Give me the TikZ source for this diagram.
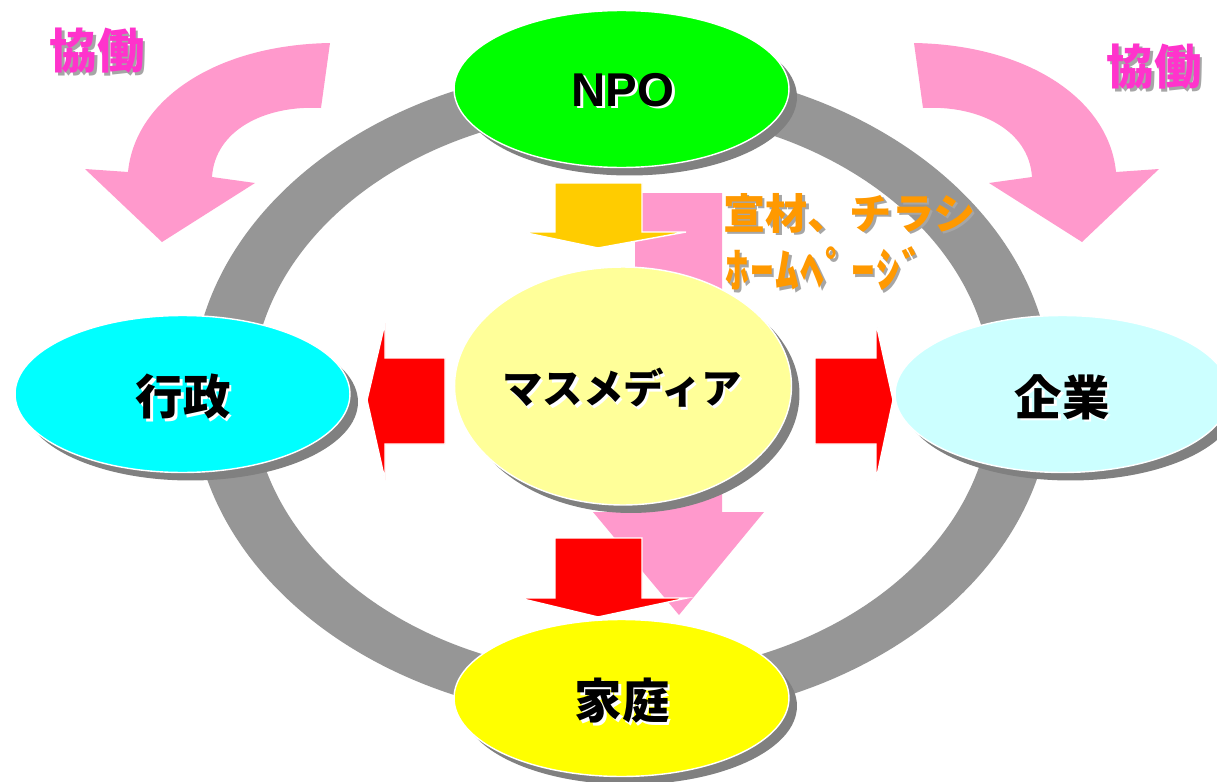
\documentclass[tikz,border=0pt]{standalone}
\usepackage{fontspec}
\setmainfont{Liberation Sans}
\newfontfamily\jp{Noto Sans CJK JP}
\usetikzlibrary{shapes.geometric,shadows}

\definecolor{ringgray}{HTML}{969696}
\definecolor{shadowgray}{HTML}{808080}
\definecolor{pinkarrow}{HTML}{FF99CC}
\definecolor{magentatxt}{HTML}{FF33CC}
\definecolor{orangetxt}{HTML}{FF9900}
\definecolor{orangearrow}{HTML}{FFCC00}
\definecolor{npogreen}{HTML}{00FF00}
\definecolor{gyoseicyan}{HTML}{00FFFF}
\definecolor{kigyocyan}{HTML}{CCFFFF}
\definecolor{mediayellow}{HTML}{FFFF99}
\definecolor{kateiyellow}{HTML}{FFFF00}

\begin{document}
\begin{tikzpicture}[x=0.02cm,y=-0.02cm,
  oval/.style={ellipse, draw=white, line width=0.8pt, inner sep=0pt,
    general shadow={fill=shadowgray, shadow xshift=0.16cm, shadow yshift=-0.16cm}},
  smalloval/.style={oval, minimum width=6.7cm, minimum height=3.14cm},
  lbl/.style={inner sep=0pt, text=black},
  lblshadow/.style={inner sep=0pt, text=white},
  cjklabel/.style={font=\jp\bfseries\fontsize{27pt}{30pt}\selectfont},
  kyodo/.style={inner sep=0pt, font=\jp\bfseries\fontsize{27pt}{30pt}\selectfont, text=magentatxt},
  kyodoshadow/.style={kyodo, text=shadowgray!70},
  mediatext/.style={inner sep=0pt, anchor=west, text=orangetxt},
  mediashadow/.style={mediatext, text=shadowgray!70},
  hpfont/.style={font=\jp\bfseries\fontsize{27pt}{30pt}\selectfont\addfontfeature{LetterSpace=3}},
  redarrow/.style={fill=red, draw=white, line width=0.8pt},
]
\fill[white] (0,0) rectangle (1217,781);
\useasboundingbox (0,0) rectangle (1217,781);

% gray ring
\fill[ringgray, even odd rule] (622,393) ellipse [x radius=8.6cm, y radius=6.56cm]
  (622,393) ellipse [x radius=7.4cm, y radius=5.64cm];

% curved pink arrows
\fill[pinkarrow] (330,43) .. controls (215,45) and (135,100) .. (128,172) -- (85,169)
  -- (162,242) -- (255,183) -- (212,177) .. controls (215,130) and (265,105) .. (321,108) -- cycle;
\fill[pinkarrow] (914,43) .. controls (1029,45) and (1109,100) .. (1116,172) -- (1159,169)
  -- (1082,242) -- (989,183) -- (1032,177) .. controls (1029,130) and (979,105) .. (923,108) -- cycle;

% big pink straight arrow
\fill[pinkarrow] (635,193) -- (722,193) -- (722,512) -- (764,512) -- (679,615) -- (593,512)
  -- (635,512) -- cycle;

% orange arrow
\filldraw[fill=orangearrow, draw=white, line width=0.8pt] (555,183) -- (642,183) -- (642,232)
  -- (686,232) -- (598,248) -- (522,232) -- (555,232) -- cycle;

% ellipses
\node[smalloval, fill=npogreen] (npo) at (621.5,89) {};
\node[smalloval, fill=gyoseicyan] (gyosei) at (182.5,394) {};
\node[smalloval, fill=kigyocyan] (kigyo) at (1062.5,394) {};
\node[smalloval, fill=kateiyellow] (katei) at (621.5,698) {};
\node[oval, fill=mediayellow, minimum width=6.74cm, minimum height=4.76cm] (media) at (623,386) {};

% red arrows
\path[redarrow] (555,538) -- (642,538) -- (642,598) -- (687,598) -- (598,617) -- (519,598)
  -- (555,598) -- cycle;
\path[redarrow] (445,358) -- (445,444) -- (385,444) -- (385,480) -- (367,400) -- (385,323)
  -- (385,358) -- cycle;
\path[redarrow] (815,358) -- (876,358) -- (876,323) -- (893,400) -- (876,480) -- (876,444)
  -- (815,444) -- cycle;

% labels in ellipses
\node[lblshadow, font=\bfseries\fontsize{27pt}{30pt}\selectfont] at (625.5,92.5) {NPO};
\node[lbl, font=\bfseries\fontsize{27pt}{30pt}\selectfont] (npotext) at (623,90) {NPO};
\node[lblshadow, cjklabel] at (185.5,399.5) {行政};
\node[lbl, cjklabel] (gyoseitext) at (183,397) {行政};
\node[lblshadow, cjklabel] at (1064.5,399.5) {企業};
\node[lbl, cjklabel] (kigyotext) at (1062,397) {企業};
\node[lblshadow, cjklabel] at (624.5,703.5) {家庭};
\node[lbl, cjklabel] (kateitext) at (622,701) {家庭};
\node[lblshadow, font=\jp\bfseries\fontsize{23pt}{26pt}\selectfont] at (624.5,390.5) {マスメディア};
\node[lbl, font=\jp\bfseries\fontsize{23pt}{26pt}\selectfont] (mediatxt) at (622,388) {マスメディア};

% kyodo labels
\node[kyodoshadow] at (99.5,53.5) {協働};
\node[kyodo] (kyodoL) at (97,51) {協働};
\node[kyodoshadow] at (1156.5,69.5) {協働};
\node[kyodo] (kyodoR) at (1154,67) {協働};

% media labels
\node[mediashadow, font=\jp\bfseries\fontsize{24pt}{27pt}\selectfont] at (725.5,215.5) {宣材、チラシ};
\node[mediatext, font=\jp\bfseries\fontsize{24pt}{27pt}\selectfont] (senzai) at (723,213) {宣材、チラシ};
\node[mediashadow, hpfont] at (727.5,271.5) {ﾎｰﾑﾍﾟｰｼﾞ};
\node[mediatext, hpfont] (homepage) at (725,269) {ﾎｰﾑﾍﾟｰｼﾞ};
\end{tikzpicture}
\end{document}
